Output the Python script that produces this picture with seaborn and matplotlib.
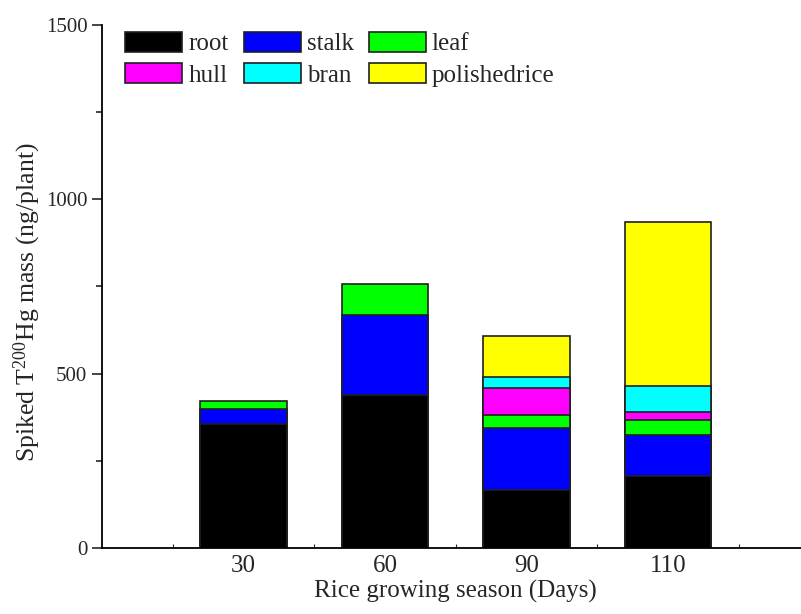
import matplotlib
matplotlib.use("Agg")
import numpy as np
import pandas as pd
import matplotlib.pyplot as plt
import seaborn as sns
from matplotlib.patches import Patch
from matplotlib.ticker import MultipleLocator, FixedLocator

# 데이터 (ng/plant)
days = ["30", "60", "90", "110"]
root = [356, 439, 166, 206]
stalk = [44, 229, 177, 119]
leaf = [22, 89, 39, 42]
hull = [0, 0, 77, 23]
bran = [0, 0, 32, 75]
polishedrice = [0, 0, 118, 470]

parts = ["root", "stalk", "leaf", "hull", "bran", "polishedrice"]
part_values = [root, stalk, leaf, hull, bran, polishedrice]
part_colors = ["#000000", "#0000ff", "#00ff00", "#ff00ff", "#00ffff", "#ffff00"]

sns.set_theme(style="ticks")
plt.rcParams["font.family"] = ["Liberation Serif", "DejaVu Serif"]
plt.rcParams["mathtext.fontset"] = "custom"
plt.rcParams["mathtext.rm"] = "Liberation Serif"
plt.rcParams["mathtext.it"] = "Liberation Serif:italic"

df = pd.DataFrame(dict(zip(parts, part_values)), index=days)
cum = df.cumsum(axis=1)

fig = plt.figure(figsize=(8.01, 6.14), dpi=100)
ax = fig.add_axes([102 / 801, 66 / 614, 707.5 / 801, 523 / 614])

# 누적 막대: 큰 누적값부터 그려 아래 항목이 위를 덮도록
for part, color in reversed(list(zip(parts, part_colors))):
    plot_df = pd.DataFrame({"day": days, "value": cum[part].values})
    plot_df = plot_df[df[part].values > 0]
    sns.barplot(data=plot_df, x="day", y="value", order=days, color=color,
                saturation=1, width=0.61, edgecolor="#202020", linewidth=1.2,
                ax=ax)

ax.set_xlim(-1, 4)
ax.set_ylim(0, 1500)
ax.yaxis.set_major_locator(MultipleLocator(500))
ax.yaxis.set_minor_locator(MultipleLocator(250))
ax.xaxis.set_minor_locator(FixedLocator([-0.5, 0.5, 1.5, 2.5, 3.5]))
ax.tick_params(axis="y", which="major", direction="out", length=7, width=1.2, labelsize=15)
ax.tick_params(axis="y", which="minor", direction="out", length=4, width=1.2)
ax.tick_params(axis="x", which="both", direction="in", length=3, width=0.8, labelsize=18, pad=5)
for side in ["top", "right"]:
    ax.spines[side].set_visible(False)
for side in ["left", "bottom"]:
    ax.spines[side].set_linewidth(1.3)
    ax.spines[side].set_color("black")

ax.set_xlabel("Rice growing season (Days)", fontsize=18, labelpad=2)
ax.set_ylabel("Spiked T$^{200}$Hg mass (ng/plant)", fontsize=18.5)
ax.yaxis.set_label_coords(-0.083, 0.47)

# 범례: 행 우선 순서로 배치
legend_order = [0, 3, 1, 4, 2, 5]
handles = [Patch(facecolor=part_colors[i], edgecolor="#202020", linewidth=1.2) for i in legend_order]
labels = [parts[i] for i in legend_order]
ax.legend(handles, labels, ncol=3, loc="upper left", bbox_to_anchor=(0.0155, 1.011),
          frameon=False, fontsize=18, handlelength=2.28, handleheight=0.84,
          handletextpad=0.24, columnspacing=0.6, labelspacing=0.32, borderpad=0)

fig.savefig("out.png", dpi=100)
